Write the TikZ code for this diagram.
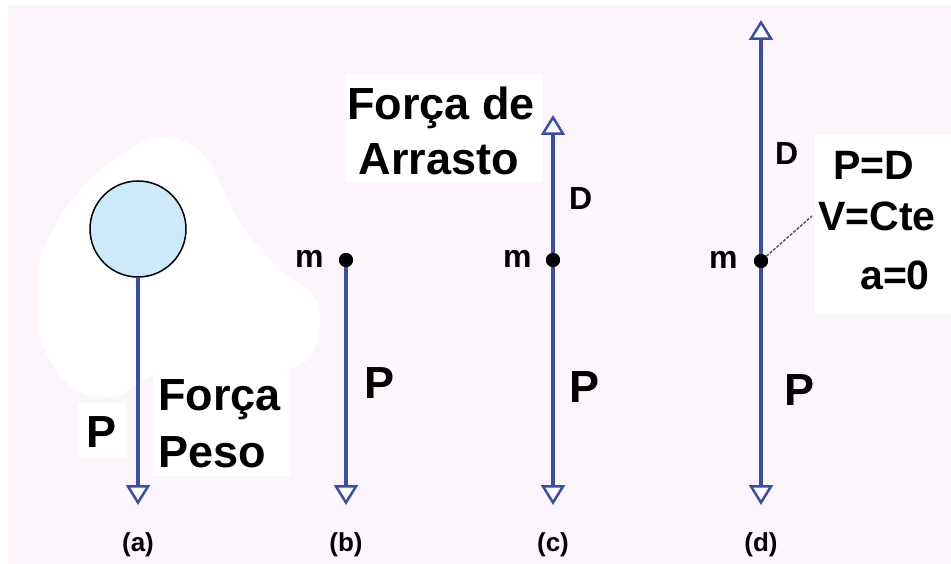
\documentclass[tikz,border=0pt]{standalone}
\usepackage{fontspec}
\setmainfont{Liberation Sans}
\usetikzlibrary{arrows.meta}
\definecolor{bg}{RGB}{252,245,252}
\definecolor{vec}{RGB}{58,78,168}
\definecolor{ballc}{RGB}{204,234,250}
\tikzset{
  vector/.style={draw=vec, line width=4.5pt, -{Triangle[open, width=24pt, length=20pt, line width=2.5pt, fill=white]}},
  big/.style={font=\fontsize{45}{50}\selectfont\bfseries, inner sep=0pt},
  mid/.style={font=\fontsize{41}{46}\selectfont\bfseries, inner sep=0pt},
  small/.style={font=\fontsize{32}{36}\selectfont\bfseries, inner sep=0pt},
  sublabel/.style={font=\fontsize{26}{30}\selectfont\bfseries, inner sep=0pt},
  mass/.style={circle, fill=black, minimum size=14pt, inner sep=0pt},
  leader/.style={draw=black!65, line width=1.5pt, dash pattern=on 3pt off 1.5pt}
}
\begin{document}
\begin{tikzpicture}[x=1pt,y=-1pt]
\fill[bg] (0,0) rectangle (951,564);
\useasboundingbox (0,0) rectangle (951,564);
% white areas
\fill[white] (0,0) rectangle (951,5);
\fill[white] (0,0) rectangle (8,564);
\fill[white, rounded corners=20pt] (38,255) -- (70,200) -- (110,160) -- (160,132) -- (205,150) -- (240,225) -- (280,272) -- (322,298) -- (318,352) -- (292,372) -- (150,372) -- (120,400) -- (70,392) -- (38,340) -- cycle;
\fill[white] (78,403) rectangle (126,458);
\fill[white] (345,75) rectangle (543,182);
\fill[white] (153,370) rectangle (290,476);
\fill[white] (815,135) rectangle (951,315);

% (a)
\node[circle, draw, fill=ballc, minimum size=96pt, inner sep=0pt, line width=1.5pt] (ball) at (138,229) {};
\coordinate (ta) at (138,505);
\draw[vector] (ball.south) -- (ta);
\node[big, anchor=base west] (pa) at (86,447) {P};
\node[big, anchor=base west] (forca) at (158,410) {Força};
\node[big, anchor=base west] (peso) at (158,467) {Peso};
\node[sublabel, anchor=base] (la) at (138,551) {(a)};

% (b)
\node[mass] (mb) at (346,260) {};
\coordinate (tb) at (346,505);
\draw[vector] (mb.center) -- (tb);
\node[mass] at (346,260) {};
\node[small, anchor=base west] (mlb) at (295,268) {m};
\node[big, anchor=base west] (pb) at (364,398) {P};
\node[sublabel, anchor=base] (lb) at (346,551) {(b)};

% (c)
\node[mass] (mc) at (553,260) {};
\coordinate (tcd) at (553,505);
\coordinate (tcu) at (553,115);
\draw[vector] (mc.center) -- (tcd);
\draw[vector] (mc.center) -- (tcu);
\node[mass] at (553,260) {};
\node[small, anchor=base west] (mlc) at (503,268) {m};
\node[small, anchor=base west] (dc) at (569,210) {D};
\node[big, anchor=base west] (pc) at (569,402) {P};
\node[big, anchor=base] (fa1) at (441,120) {Força de};
\node[big, anchor=base] (fa2) at (439,175) {Arrasto};
\node[sublabel, anchor=base] (lc) at (553,551) {(c)};

% (d)
\node[mass] (md) at (761,261) {};
\coordinate (tdd) at (761,505);
\coordinate (tdu) at (761,20);
\draw[vector] (md.center) -- (tdd);
\draw[vector] (md.center) -- (tdu);
\node[mass] at (761,261) {};
\node[small, anchor=base west] (mld) at (709,269) {m};
\node[small, anchor=base west] (dd) at (775,165) {D};
\node[big, anchor=base west] (pd) at (784,405) {P};
\node[mid, anchor=base] (eq1) at (874,180) {P=D};
\node[mid, anchor=base west] (eq2) at (818,231) {V=Cte};
\node[mid, anchor=base] (eq3) at (895,290) {a=0};
\coordinate (lead) at (812,216);
\draw[leader] (md) -- (lead);
\node[sublabel, anchor=base] (ld) at (761,551) {(d)};
\end{tikzpicture}
\end{document}
